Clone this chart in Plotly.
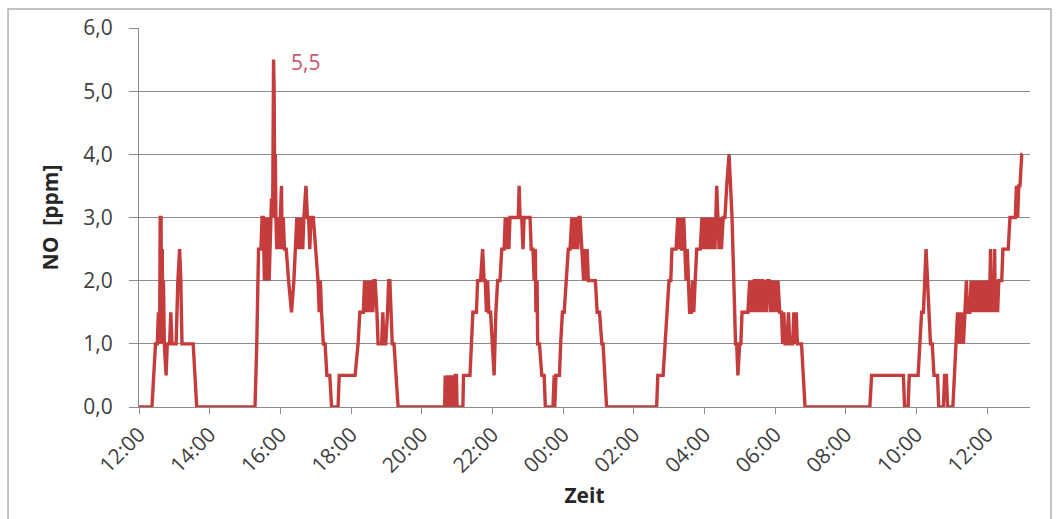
import pandas as pd
import plotly.graph_objects as go

# NO concentration log, minutes after the 12:00 start and value in ppm
minutes = [
    0, 22, 28, 31, 33, 35, 36, 37.5, 38.5, 39.5, 40.5, 41.5, 43, 46, 48, 52, 54, 56,
    63, 66, 69, 71, 73, 92, 95, 98,
    197, 200, 203, 207, 209, 211, 213, 215, 217, 219, 221, 223, 225, 227, 228.5, 229.5,
    230.5, 231.5, 232.5, 234, 236, 238, 240, 242, 243, 245, 247, 250, 254, 259, 263, 268,
    270, 272, 274, 276, 278, 280, 283.5, 286, 288, 290, 292, 296, 300, 304, 306,
    308, 310, 313, 316, 319, 324, 327, 338, 340, 367, 372, 375, 381, 383, 385, 387,
    389, 391, 393, 395, 397, 399, 401, 404, 406, 412, 414, 416, 419, 422, 424, 426,
    428, 430, 433, 436, 440,
    519, 520, 522, 524, 526, 528, 530, 532, 535, 537, 539, 540, 550, 551, 562, 565,
    567, 573, 575, 580, 583.5, 586, 588, 590, 592, 594, 597, 603, 606, 609, 613,
    616, 620, 622, 624, 626, 628, 630, 632, 636, 640, 644, 645.5, 647, 650, 652, 654,
    658, 662, 664, 666, 669, 671, 673, 674, 676, 677, 680, 684, 688, 690, 703, 705,
    706, 708, 714, 716, 719, 722, 725, 729, 732, 735, 737, 739, 741, 743, 745, 747,
    749, 752, 755, 757, 759, 761, 763, 766, 775, 778, 782, 786, 788, 791, 794,
    879, 881, 890, 893, 896, 900, 903, 905, 912, 915, 917, 919, 921, 923, 925, 927,
    929, 931, 933, 935, 938, 940, 942, 944, 947, 950, 953, 956, 958, 960, 962, 964,
    966, 968, 970, 972, 974, 976, 978, 981, 983, 985, 987, 989, 992, 995, 998,
    1002, 1004.5, 1007, 1010, 1013, 1015, 1017, 1020, 1022, 1024, 1034, 1037, 1039,
    1041, 1043, 1045, 1047, 1049, 1051, 1053, 1055, 1057, 1059, 1061, 1063, 1065,
    1067, 1070, 1072, 1074, 1077, 1079, 1082, 1085, 1088, 1091, 1093, 1095, 1097,
    1100, 1103, 1105, 1110, 1112, 1114, 1116, 1118, 1125, 1128, 1131,
    1241, 1244, 1298, 1300, 1306, 1308, 1323, 1326, 1329, 1332, 1334, 1336.5, 1339,
    1342, 1344, 1347, 1350, 1356, 1358, 1366, 1368, 1371, 1373, 1382, 1385, 1388,
    1390, 1392, 1394, 1396, 1398, 1400, 1402, 1405, 1407, 1411, 1413, 1416, 1418,
    1420, 1422, 1424, 1426, 1428, 1430, 1432, 1434, 1436, 1438, 1440, 1442, 1444,
    1446, 1447, 1449, 1451, 1453, 1454, 1456, 1458, 1460, 1462, 1465, 1467, 1469,
    1472, 1476, 1479, 1482, 1486, 1488, 1490, 1492, 1494, 1496, 1499, 1500,
]
no_ppm = [
    0, 0, 1.0, 1.0, 1.5, 1.0, 3.0, 3.0, 1.0, 2.5, 1.0, 2.0, 1.0, 0.5, 1.0, 1.0, 1.5, 1.0,
    1.0, 2.0, 2.5, 2.0, 1.0, 1.0, 0.5, 0,
    0, 1.0, 2.5, 2.5, 3.0, 3.0, 2.0, 3.0, 2.0, 3.0, 2.0, 3.0, 3.3, 3.0, 5.5, 5.0,
    3.3, 4.0, 3.0, 2.5, 3.0, 2.5, 3.0, 3.5, 2.5, 3.0, 2.5, 2.5, 2.0, 1.5, 2.0, 3.0,
    2.5, 3.0, 2.5, 3.0, 2.5, 3.0, 3.5, 3.0, 3.0, 2.5, 3.0, 3.0, 2.5, 2.0, 1.5,
    2.0, 1.5, 1.0, 1.0, 0.5, 0.5, 0, 0, 0.5, 0.5, 1.0, 1.5, 1.5, 2.0, 1.5, 2.0,
    1.5, 2.0, 1.5, 2.0, 1.5, 2.0, 2.0, 1.5, 1.0, 1.0, 1.5, 1.0, 1.0, 1.5, 2.0, 2.0,
    1.5, 1.0, 1.0, 0.5, 0,
    0, 0.5, 0, 0.5, 0, 0.5, 0, 0.5, 0, 0.5, 0.5, 0, 0, 0.5, 0.5, 1.0,
    1.5, 1.5, 2.0, 2.0, 2.5, 2.0, 2.0, 1.5, 2.0, 1.5, 1.5, 0.5, 1.5, 2.0, 2.0,
    2.5, 2.5, 3.0, 2.5, 3.0, 2.5, 3.0, 3.0, 3.0, 3.0, 3.0, 3.5, 3.0, 3.0, 2.5, 3.0,
    3.0, 3.0, 3.0, 2.5, 2.5, 2.0, 2.5, 1.5, 2.0, 1.0, 1.0, 0.5, 0.5, 0, 0, 0.5,
    0, 0.5, 0.5, 1.0, 1.5, 1.5, 2.0, 2.5, 2.5, 3.0, 2.5, 3.0, 2.5, 3.0, 2.5, 3.0,
    3.0, 2.5, 2.0, 2.5, 2.0, 2.5, 2.0, 2.0, 2.0, 1.5, 1.5, 1.0, 1.0, 0.5, 0,
    0, 0.5, 0.5, 1.0, 1.5, 2.0, 2.0, 2.5, 2.5, 3.0, 2.5, 3.0, 2.5, 2.5, 3.0, 2.5,
    2.0, 2.5, 2.0, 1.5, 1.5, 2.0, 1.5, 2.0, 2.5, 2.5, 2.5, 3.0, 2.5, 3.0, 2.5, 3.0,
    2.5, 3.0, 2.5, 3.0, 2.5, 3.0, 2.5, 3.5, 3.0, 2.5, 3.0, 2.5, 3.0, 3.0, 3.5,
    4.0, 3.5, 3.0, 2.0, 1.0, 1.0, 0.5, 1.0, 1.0, 1.5, 1.5, 2.0, 1.5,
    2.0, 1.5, 2.0, 2.0, 1.5, 2.0, 2.0, 1.5, 2.0, 2.0, 1.5, 2.0, 1.5,
    2.0, 2.0, 1.5, 2.0, 1.5, 2.0, 1.5, 2.0, 1.5, 1.5, 1.0, 1.5, 1.0,
    1.0, 1.5, 1.0, 1.0, 1.5, 1.0, 1.5, 1.0, 1.0, 0.5, 0,
    0, 0.5, 0.5, 0, 0, 0.5, 0.5, 1.0, 1.5, 1.5, 2.0, 2.5, 2.0,
    1.5, 1.0, 1.0, 0.5, 0.5, 0, 0, 0.5, 0.5, 0, 0, 0.5, 1.0,
    1.5, 1.0, 1.5, 1.0, 1.5, 1.0, 1.5, 2.0, 1.5, 1.5, 2.0, 1.5, 2.0,
    1.5, 2.0, 1.5, 2.0, 1.5, 2.0, 1.5, 2.0, 1.5, 2.0, 1.5, 2.0, 1.5,
    2.5, 1.5, 2.0, 1.5, 2.5, 1.5, 2.0, 1.5, 2.0, 2.0, 2.0, 2.5, 2.5,
    2.5, 2.5, 3.0, 3.0, 3.0, 3.0, 3.5, 3.0, 3.5, 3.5, 4.0, 4.0,
]

start = pd.Timestamp("2000-01-01 12:00")
axis_end_min = 1513
times = start + pd.to_timedelta(minutes, unit="m")

TEXT = "#404040"
GRID = "#8c8c8c"
LINE = "#C43C3C"
FONT = "Open Sans"

fig = go.Figure()
fig.add_trace(go.Scatter(
    x=times, y=no_ppm, mode="lines",
    line=dict(color=LINE, width=3.4),
    showlegend=False,
))

# label the maximum reading
peak_i = max(range(len(no_ppm)), key=lambda i: no_ppm[i])
peak_text = f"{no_ppm[peak_i]:.1f}".replace(".", ",")
fig.add_annotation(
    x=times[peak_i], y=no_ppm[peak_i], text=peak_text, showarrow=False,
    xanchor="left", yanchor="middle", xshift=15, yshift=-2,
    font=dict(family=FONT, size=21, color="#C9566E"),
)

# chart frame
fig.add_shape(
    type="rect", xref="paper", yref="paper",
    x0=-0.147, x1=1.0236, y0=-0.33, y1=1.050,
    line=dict(color="#b0b0b0", width=1.5), fillcolor="rgba(0,0,0,0)", layer="below",
)

fig.update_layout(
    width=1059, height=519,
    margin=dict(l=139, r=29, t=28, b=112),
    paper_bgcolor="white", plot_bgcolor="white",
    separators=",.",
    font=dict(family=FONT, color=TEXT),
    xaxis=dict(
        type="date",
        range=[start, start + pd.Timedelta(minutes=axis_end_min)],
        tick0=start, dtick=2 * 3600 * 1000, tickformat="%H:%M",
        tickangle=-45, tickfont=dict(size=21, color=TEXT),
        showgrid=False, zeroline=False,
        showline=True, linecolor=GRID, linewidth=1,
        ticks="outside", ticklen=6, tickcolor=GRID,
        title=dict(text="<b>Zeit</b>", font=dict(size=21, color="#262626"), standoff=11),
    ),
    yaxis=dict(
        range=[0, 6], dtick=1, tickformat=".1f",
        tickfont=dict(size=21, color=TEXT),
        showgrid=True, gridcolor=GRID, gridwidth=1,
        zeroline=False, showline=True, linecolor=GRID, linewidth=1,
        ticks="outside", ticklen=9, tickcolor=GRID,
        ticklabelstandoff=12,
        title=dict(text="<b>NO\u00a0 [ppm]</b>", font=dict(size=21, color="#262626"), standoff=18),
    ),
)

fig.write_html("out.html")
